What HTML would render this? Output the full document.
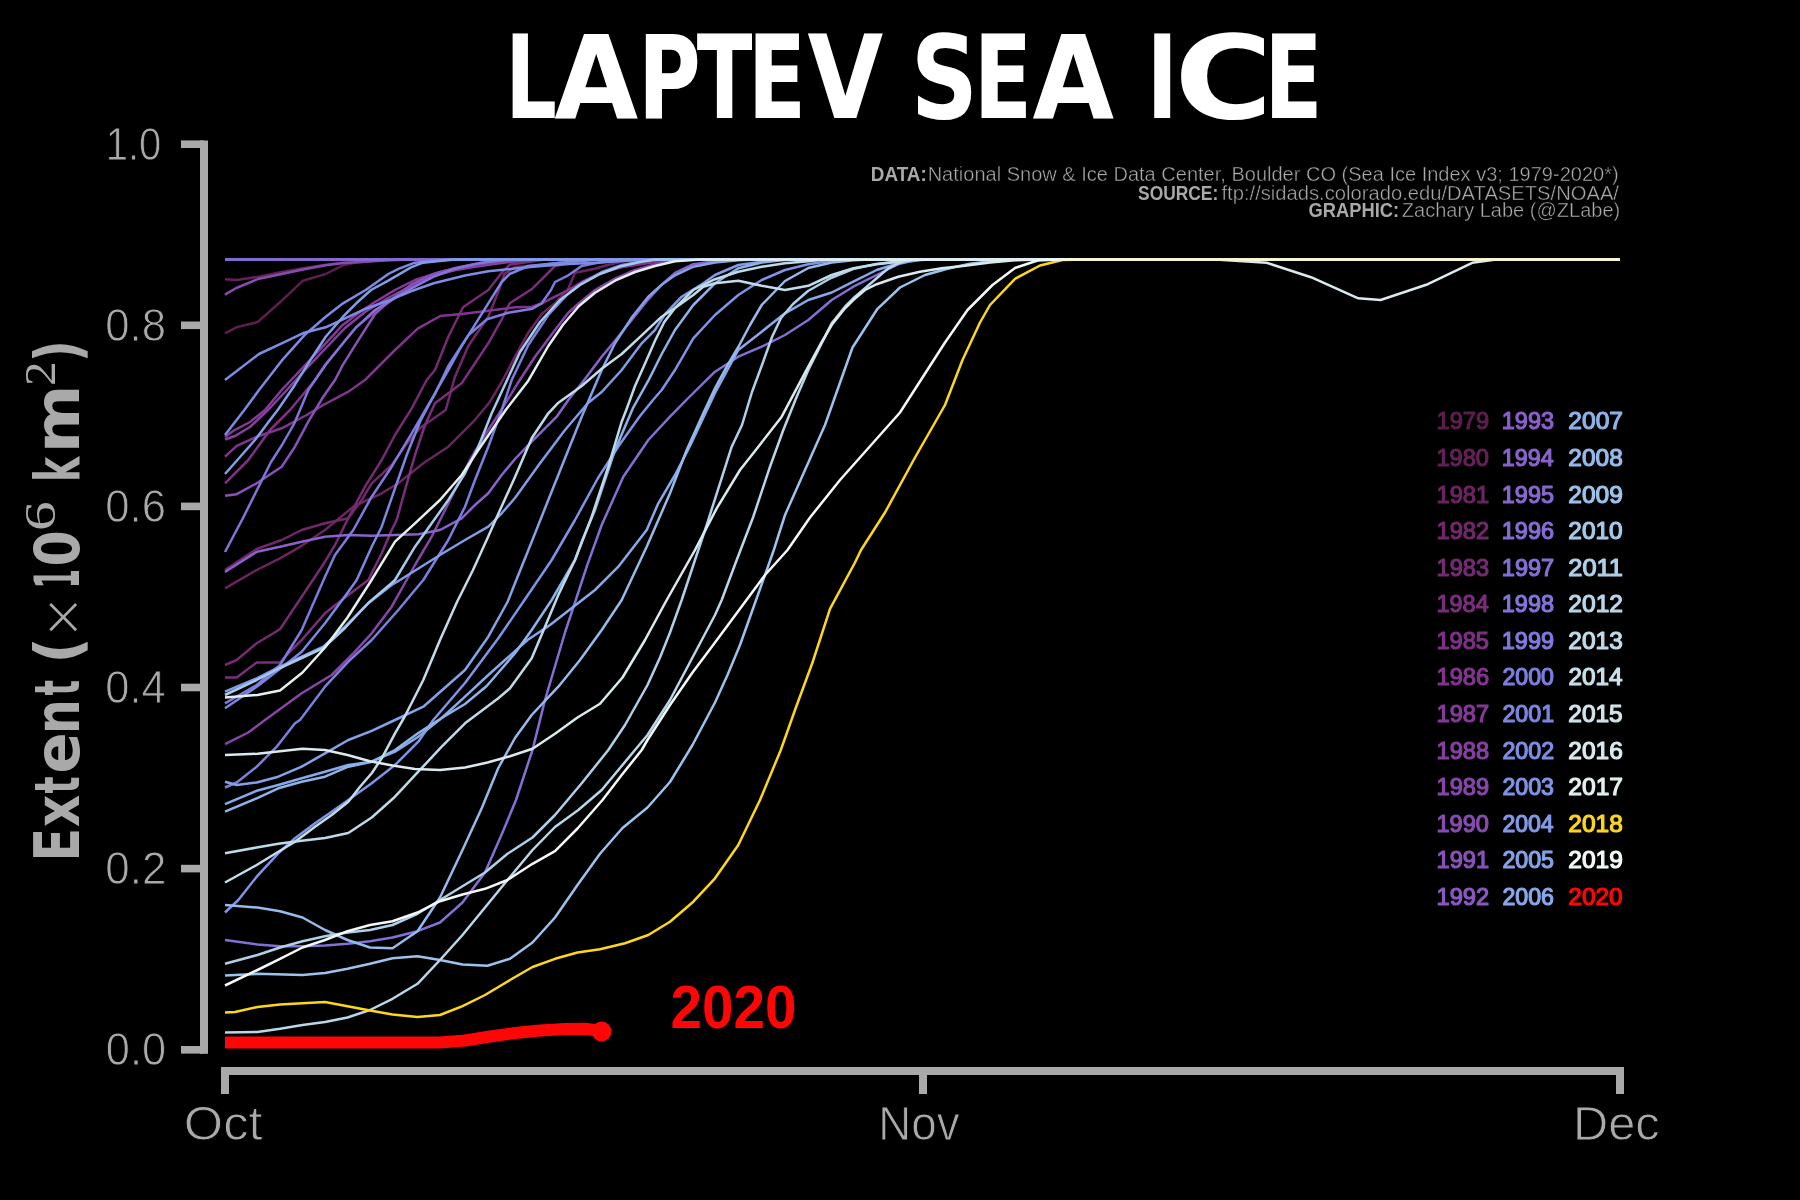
<!DOCTYPE html>
<html lang="en"><head><meta charset="utf-8"><title>Laptev Sea Ice</title>
<style>
html,body{margin:0;padding:0;background:#000;}
body{width:1800px;height:1200px;overflow:hidden;}
svg{display:block;will-change:transform;}
text{font-family:"Liberation Sans", sans-serif;}
text.dj{font-family:"DejaVu Sans","Liberation Sans",sans-serif;}
.ln{fill:none;stroke-width:2.5;stroke-linejoin:round;stroke-linecap:butt;}
</style></head><body>
<svg width="1800" height="1200" viewBox="0 0 1800 1200">
<rect width="1800" height="1200" fill="#000"/>
<text y="118" class="dj" font-size="115.9" font-weight="700" fill="#fff"><tspan x="505.36" textLength="51.66" lengthAdjust="spacingAndGlyphs">L</tspan><tspan x="554.27" textLength="83.96" lengthAdjust="spacingAndGlyphs">A</tspan><tspan x="637.94" textLength="62.78" lengthAdjust="spacingAndGlyphs">P</tspan><tspan x="696.80" textLength="55.64" lengthAdjust="spacingAndGlyphs">T</tspan><tspan x="747.65" textLength="58.41" lengthAdjust="spacingAndGlyphs">E</tspan><tspan x="807.52" textLength="75.65" lengthAdjust="spacingAndGlyphs">V</tspan> <tspan x="910.80" textLength="67.24" lengthAdjust="spacingAndGlyphs">S</tspan><tspan x="973.85" textLength="58.41" lengthAdjust="spacingAndGlyphs">E</tspan><tspan x="1032.49" textLength="81.53" lengthAdjust="spacingAndGlyphs">A</tspan> <tspan x="1146.54" textLength="31.47" lengthAdjust="spacingAndGlyphs">I</tspan><tspan x="1174.55" textLength="97.99" lengthAdjust="spacingAndGlyphs">C</tspan><tspan x="1264.35" textLength="58.41" lengthAdjust="spacingAndGlyphs">E</tspan></text>
<g font-size="19.6" fill="#a9a9a9">
<text y="181.2"><tspan x="870.80" textLength="55.93" lengthAdjust="spacingAndGlyphs" font-weight="700">DATA:</tspan> <tspan x="927.66" textLength="690.98" lengthAdjust="spacingAndGlyphs" stroke="#000" stroke-width="0.4">National Snow &amp; Ice Data Center, Boulder CO (Sea Ice Index v3; 1979-2020*)</tspan></text>
<text y="199.8"><tspan x="1138.10" textLength="80.17" lengthAdjust="spacingAndGlyphs" font-weight="700">SOURCE:</tspan> <tspan x="1221.52" textLength="397.48" lengthAdjust="spacingAndGlyphs" stroke="#000" stroke-width="0.4">ftp://sidads.colorado.edu/DATASETS/NOAA/</tspan></text>
<text y="217.2"><tspan x="1308.55" textLength="90.51" lengthAdjust="spacingAndGlyphs" font-weight="700">GRAPHIC:</tspan> <tspan x="1401.86" textLength="218.38" lengthAdjust="spacingAndGlyphs" stroke="#000" stroke-width="0.4">Zachary Labe (@ZLabe)</tspan></text>
</g>
<g class="ln">
<path d="M225.0 333.3 L236.3 327.3 L257.7 322.0 L281.7 300.7 L303.0 280.7 L325.7 274.0 L343.0 265.3 L355.0 262.7 L375.0 260.5 L390.0 259.5 L1620.0 259.5" stroke="#5c1e4e"/>
<path d="M225.0 279.3 L236.3 280.0 L259.0 276.7 L281.7 272.0 L304.3 268.0 L325.7 264.7 L343.0 262.7 L365.7 261.3 L388.3 260.0 L415.0 259.5 L1620.0 259.5" stroke="#632157"/>
<path d="M225.0 588.3 L256.7 570.0 L280.0 558.3 L301.7 545.8 L325.0 530.0 L353.3 506.7 L381.7 493.3 L398.3 483.3 L423.3 463.3 L448.3 446.7 L473.3 421.7 L490.0 401.7 L501.7 382.0 L515.0 356.7 L528.3 332.7 L541.7 314.0 L555.0 303.3 L568.3 288.7 L575.0 272.7 L595.0 268.7 L608.3 264.7 L625.0 261.0 L640.0 259.5 L1620.0 259.5" stroke="#6a2560"/>
<path d="M225.0 570.0 L256.7 549.0 L281.7 540.0 L301.7 530.0 L325.0 523.3 L348.3 518.3 L361.7 500.0 L371.7 483.3 L391.7 465.0 L405.0 446.0 L420.0 428.0 L445.7 410.0 L455.0 376.7 L468.3 346.0 L488.3 316.7 L499.0 290.0 L504.3 274.0 L515.0 267.3 L528.3 266.0 L541.7 264.7 L555.0 263.3 L575.0 259.5 L1620.0 259.5" stroke="#712869"/>
<path d="M225.0 665.0 L236.7 660.0 L256.7 643.3 L280.0 629.2 L301.7 596.7 L325.0 561.7 L335.0 545.0 L348.3 518.0 L365.0 486.7 L381.7 460.0 L395.0 435.0 L411.7 408.3 L426.7 380.0 L435.0 370.0 L448.3 336.7 L463.0 307.3 L488.3 290.0 L501.7 272.7 L509.7 264.7 L528.3 262.0 L545.0 259.5 L1620.0 259.5" stroke="#752b72"/>
<path d="M225.0 677.5 L236.7 677.5 L256.7 662.5 L280.0 662.5 L290.0 651.7 L301.7 640.0 L325.0 613.3 L348.3 595.0 L368.3 580.0 L381.7 553.3 L391.7 530.0 L396.7 520.0 L405.0 490.0 L415.0 455.0 L425.0 425.0 L435.0 403.3 L461.7 383.3 L475.0 363.3 L488.3 343.3 L501.7 319.3 L509.7 303.3 L532.3 288.7 L541.7 279.3 L555.0 266.0 L568.3 263.3 L585.0 259.5 L1620.0 259.5" stroke="#7a2e7c"/>
<path d="M225.0 483.3 L248.3 460.0 L270.0 430.0 L290.0 410.0 L306.7 390.0 L315.0 380.0 L325.7 364.0 L343.0 343.0 L356.0 327.0 L375.0 312.0 L388.0 303.0 L411.0 286.0 L433.7 275.0 L455.0 270.0 L475.0 266.0 L500.0 262.0 L520.0 259.5 L1620.0 259.5" stroke="#7e3185"/>
<path d="M225.0 456.7 L236.7 445.8 L256.7 436.7 L281.7 428.3 L306.7 415.0 L323.3 405.0 L348.3 391.7 L365.0 380.0 L375.0 370.0 L395.0 350.0 L417.7 328.7 L440.3 316.0 L461.7 314.0 L488.3 310.7 L515.0 307.3 L532.3 306.7 L541.7 303.3 L555.0 296.7 L568.3 290.0 L581.7 282.0 L601.7 272.7 L621.7 267.3 L641.7 264.0 L661.7 261.3 L680.0 259.5 L1620.0 259.5" stroke="#82348e"/>
<path d="M225.0 437.0 L233.0 431.0 L250.0 422.0 L265.0 410.0 L281.7 390.0 L304.3 366.0 L325.7 343.3 L343.0 324.7 L360.0 312.0 L375.0 302.0 L395.0 290.0 L415.0 280.0 L440.0 272.0 L465.0 267.0 L490.0 263.5 L515.0 261.0 L535.0 259.5 L1620.0 259.5" stroke="#843a97"/>
<path d="M225.0 439.5 L235.0 436.0 L250.0 427.0 L268.0 410.0 L285.0 392.0 L305.0 370.0 L325.0 349.0 L345.0 328.0 L365.0 312.0 L388.0 298.0 L411.0 286.0 L433.7 276.0 L455.0 270.0 L480.0 266.0 L505.0 262.5 L530.0 260.0 L545.0 259.5 L1620.0 259.5" stroke="#8540a0"/>
<path d="M225.0 744.2 L248.3 732.5 L265.0 720.0 L301.7 693.3 L331.7 675.0 L353.3 653.3 L371.7 633.3 L391.7 606.7 L415.0 565.0 L431.7 536.7 L440.0 520.0 L455.0 490.0 L470.0 460.0 L485.0 435.0 L500.0 412.0 L517.7 383.3 L535.0 356.7 L555.0 330.0 L568.3 312.7 L579.0 303.3 L595.0 290.0 L615.0 278.7 L635.0 270.0 L660.0 263.0 L680.0 259.5 L1620.0 259.5" stroke="#8646a8"/>
<path d="M225.0 294.7 L236.3 288.0 L259.0 278.7 L281.7 274.0 L304.3 269.3 L325.7 265.3 L343.0 263.0 L365.7 261.7 L388.0 260.3 L410.0 259.5 L1620.0 259.5" stroke="#884cb1"/>
<path d="M225.0 495.8 L236.7 494.2 L256.7 483.3 L281.7 466.7 L295.0 446.7 L308.3 421.7 L323.3 396.7 L335.0 380.0 L343.0 364.7 L356.3 343.3 L375.0 314.0 L388.3 302.0 L411.0 284.7 L433.7 274.0 L455.0 268.0 L480.0 263.0 L500.0 260.5 L515.0 259.5 L1620.0 259.5" stroke="#8952b9"/>
<path d="M225.0 259.5 L1620.0 259.5" stroke="#8a59c0"/>
<path d="M225.0 572.0 L257.0 551.7 L280.0 546.7 L301.7 541.7 L325.0 536.7 L348.3 535.0 L371.7 535.8 L395.0 535.0 L418.3 534.2 L440.0 530.0 L461.7 518.3 L475.0 505.0 L488.3 493.3 L501.7 475.0 L515.0 459.0 L531.7 441.7 L556.7 416.7 L568.3 400.0 L581.7 383.3 L601.7 356.7 L615.0 340.7 L632.3 319.3 L648.3 299.3 L661.7 284.7 L675.0 273.0 L693.3 264.2 L715.0 261.3 L735.0 259.5 L1620.0 259.5" stroke="#8963cb"/>
<path d="M225.0 259.5 L1620.0 259.5" stroke="#8768ce"/>
<path d="M225.0 259.5 L1620.0 259.5" stroke="#856cd2"/>
<path d="M225.0 940.0 L257.5 944.5 L280.0 946.2 L302.5 946.2 L325.0 945.5 L347.5 943.8 L370.0 941.2 L392.5 937.5 L417.5 931.2 L440.0 922.5 L462.5 902.5 L485.0 872.5 L502.5 832.5 L516.0 800.0 L532.5 750.0 L545.0 700.0 L565.0 632.5 L575.8 600.0 L586.7 566.7 L601.7 525.0 L623.3 476.7 L648.3 440.0 L670.0 416.7 L688.3 398.0 L715.0 371.7 L738.3 356.7 L761.7 346.7 L785.0 335.0 L808.3 320.0 L831.7 300.0 L853.3 286.7 L876.7 275.0 L898.3 264.2 L912.0 260.5 L925.0 259.5 L1620.0 259.5" stroke="#8370d5"/>
<path d="M225.0 552.0 L243.0 518.0 L262.0 480.0 L271.0 462.0 L282.0 445.0 L294.0 424.0 L300.0 410.0 L308.3 390.0 L325.7 364.7 L343.0 343.3 L356.3 327.3 L375.0 310.0 L388.3 302.0 L411.0 288.7 L433.7 276.7 L455.0 268.7 L480.0 263.0 L505.0 260.0 L520.0 259.5 L1620.0 259.5" stroke="#8175d8"/>
<path d="M225.0 703.3 L256.7 685.0 L280.0 665.0 L301.7 630.0 L325.0 576.7 L335.0 555.0 L353.3 530.0 L371.7 496.7 L391.7 466.7 L411.7 433.3 L428.3 405.0 L435.0 394.0 L448.3 366.0 L468.3 335.3 L487.0 319.3 L508.3 312.7 L532.3 308.7 L541.7 303.3 L551.0 290.0 L555.0 282.0 L568.3 275.3 L581.7 266.0 L595.0 263.3 L615.0 260.5 L630.0 259.5 L1620.0 259.5" stroke="#7f7adb"/>
<path d="M225.0 787.5 L236.7 782.5 L256.7 766.7 L276.7 746.7 L295.0 723.3 L300.0 720.0 L325.0 686.7 L348.3 661.7 L371.7 640.0 L398.3 610.0 L423.3 580.0 L448.3 540.0 L465.0 506.7 L475.0 480.0 L488.3 446.7 L501.7 410.0 L511.7 380.0 L528.3 345.0 L548.3 315.0 L568.3 293.5 L581.7 283.0 L601.7 272.0 L621.7 265.0 L641.7 261.3 L660.0 259.5 L1620.0 259.5" stroke="#7d7fde"/>
<path d="M225.0 708.3 L256.7 686.7 L285.0 665.0 L301.7 651.7 L325.0 623.3 L348.3 591.7 L356.7 580.0 L371.7 546.7 L381.7 526.7 L395.0 488.3 L406.7 455.0 L420.0 421.7 L436.7 390.0 L448.3 370.0 L461.7 346.0 L475.0 324.7 L488.3 303.3 L501.7 282.0 L509.7 274.0 L528.3 266.0 L555.0 263.3 L581.7 261.0 L600.0 259.5 L1620.0 259.5" stroke="#7d86e0"/>
<path d="M225.0 435.0 L244.3 410.0 L259.0 390.0 L281.7 360.7 L304.3 335.3 L325.7 316.7 L343.0 303.3 L365.7 290.0 L388.3 274.0 L399.0 268.7 L415.0 262.7 L433.7 260.7 L450.0 259.5 L1620.0 259.5" stroke="#7e8ae2"/>
<path d="M225.0 380.0 L259.0 354.0 L281.7 343.3 L304.3 332.7 L325.7 327.3 L343.0 319.3 L365.7 308.7 L388.3 300.7 L411.0 291.3 L433.7 283.3 L455.0 278.0 L465.0 275.5 L488.3 271.3 L515.0 268.5 L541.7 266.0 L568.3 264.0 L595.0 262.7 L630.0 260.5 L660.0 259.5 L1620.0 259.5" stroke="#7e8de3"/>
<path d="M225.0 912.5 L238.3 900.0 L256.7 876.7 L278.3 853.3 L295.0 838.3 L315.0 823.3 L331.7 811.7 L348.3 800.0 L371.7 783.3 L395.0 765.0 L418.3 741.7 L433.3 720.0 L465.0 683.0 L498.3 638.3 L523.3 601.7 L551.7 560.0 L575.0 520.0 L598.0 478.0 L620.0 444.0 L640.0 416.0 L653.0 400.0 L661.7 390.0 L675.0 370.0 L693.3 338.3 L715.0 315.0 L738.3 295.0 L761.7 280.0 L785.0 270.0 L808.3 264.2 L831.7 260.8 L850.0 259.5 L1620.0 259.5" stroke="#7e94e5"/>
<path d="M225.0 691.7 L256.7 678.3 L280.0 666.7 L301.7 656.7 L323.3 646.7 L345.0 626.7 L368.3 603.3 L391.7 585.0 L400.0 580.0 L440.0 555.0 L465.0 540.0 L488.3 526.7 L501.7 513.3 L515.0 498.0 L540.0 463.3 L565.0 430.0 L588.0 403.0 L601.7 392.0 L621.7 370.0 L641.7 343.3 L655.0 330.0 L665.0 314.2 L681.7 296.7 L703.3 283.3 L715.0 275.0 L738.3 265.0 L761.7 261.7 L780.0 259.5 L1620.0 259.5" stroke="#819be7"/>
<path d="M225.0 474.0 L255.0 440.0 L270.0 420.0 L277.7 410.0 L295.0 384.7 L308.3 363.3 L325.7 336.7 L343.0 316.7 L356.3 303.3 L371.0 290.0 L388.3 280.7 L411.0 267.3 L423.0 262.7 L441.7 260.7 L455.0 259.5 L1620.0 259.5" stroke="#829ee8"/>
<path d="M225.0 781.7 L236.7 785.0 L256.7 782.5 L278.3 776.7 L301.7 766.7 L325.0 753.3 L348.3 740.0 L371.7 730.8 L395.0 720.0 L423.3 706.7 L465.0 670.0 L488.3 636.7 L507.5 602.0 L515.0 583.3 L531.7 541.7 L548.3 500.0 L565.0 458.3 L581.7 416.7 L588.0 402.0 L601.7 370.0 L615.0 343.3 L632.3 316.7 L648.3 296.7 L661.7 284.7 L675.0 275.3 L693.3 266.7 L715.0 262.5 L738.3 260.3 L755.0 259.5 L1620.0 259.5" stroke="#84a2e8"/>
<path d="M225.0 804.2 L256.7 790.8 L278.3 785.0 L301.7 778.3 L325.0 771.7 L348.3 765.0 L371.7 761.7 L395.0 751.7 L418.3 736.7 L441.7 718.0 L465.0 696.7 L488.3 675.0 L505.0 660.0 L527.5 640.0 L550.0 625.0 L572.5 607.5 L595.0 590.0 L618.3 566.7 L646.7 530.0 L658.3 503.3 L675.0 475.0 L690.0 446.0 L715.0 393.0 L738.3 350.0 L761.7 331.7 L785.0 313.3 L808.3 300.0 L831.7 292.5 L853.3 281.7 L876.7 270.0 L898.3 263.3 L920.0 260.0 L935.0 259.5 L1620.0 259.5" stroke="#87a9ea"/>
<path d="M225.0 811.7 L256.7 798.3 L278.3 788.3 L301.7 781.7 L325.0 776.7 L348.3 766.7 L371.7 761.7 L395.0 750.0 L418.3 733.0 L441.7 718.0 L465.0 704.0 L486.7 686.0 L515.0 653.3 L531.7 630.0 L551.7 600.0 L575.0 560.0 L581.7 541.7 L595.0 510.0 L615.0 450.0 L633.0 408.0 L648.3 380.7 L661.7 354.0 L675.0 330.0 L693.3 305.0 L715.0 283.3 L738.3 268.3 L761.7 262.5 L781.7 260.3 L795.0 259.5 L1620.0 259.5" stroke="#8eb2ea"/>
<path d="M225.0 905.0 L257.5 907.5 L280.0 911.2 L302.5 917.5 L325.0 930.0 L347.5 940.0 L370.0 947.5 L392.5 948.2 L417.5 931.2 L440.0 897.5 L462.5 850.0 L481.7 808.3 L498.3 768.0 L515.0 738.0 L531.7 715.0 L558.3 686.7 L580.0 660.0 L601.7 630.0 L621.7 600.0 L646.7 546.7 L670.0 493.3 L686.7 450.0 L703.3 413.3 L715.0 388.3 L726.7 366.7 L738.3 347.0 L750.0 325.0 L761.7 305.0 L785.0 281.0 L808.3 268.0 L831.7 262.5 L853.3 260.3 L870.0 259.5 L1620.0 259.5" stroke="#95baeb"/>
<path d="M225.0 975.5 L257.5 973.8 L302.5 975.0 L325.0 973.0 L347.5 968.8 L370.0 963.8 L392.5 958.2 L417.5 956.2 L440.0 960.0 L462.5 964.5 L487.5 965.8 L510.0 958.8 L532.5 942.5 L555.0 917.5 L577.5 885.0 L600.0 853.8 L622.5 828.0 L647.5 807.5 L670.0 782.0 L692.5 745.0 L715.0 702.5 L727.5 675.0 L740.0 645.0 L752.5 610.0 L765.0 575.0 L773.8 550.0 L785.0 515.0 L805.0 470.0 L825.0 425.0 L852.5 347.5 L877.5 308.8 L900.0 287.5 L925.0 275.0 L947.5 268.8 L970.0 263.8 L992.5 261.0 L1015.0 259.5 L1620.0 259.5" stroke="#9cc3eb"/>
<path d="M225.0 695.0 L256.7 680.0 L280.0 668.0 L301.7 658.0 L323.3 648.0 L345.0 628.0 L368.3 603.0 L391.7 583.0 L395.0 580.0 L415.0 546.7 L431.7 523.3 L448.3 500.0 L465.0 473.3 L478.3 446.7 L491.7 413.3 L503.3 388.3 L520.0 352.0 L540.0 322.0 L560.0 300.0 L580.0 285.0 L600.0 274.0 L620.0 266.5 L640.0 262.0 L655.0 259.5 L1620.0 259.5" stroke="#a5caea"/>
<path d="M225.0 963.8 L257.5 955.0 L280.0 947.5 L302.5 941.2 L325.0 936.2 L347.5 932.5 L370.0 930.0 L392.5 925.0 L417.5 913.8 L440.0 900.0 L462.5 886.2 L485.0 872.5 L507.5 853.8 L532.5 837.5 L555.0 815.0 L581.7 783.3 L608.3 750.0 L625.0 725.0 L647.5 685.0 L660.0 657.5 L670.0 632.5 L681.7 600.0 L695.0 560.0 L706.7 525.0 L720.0 483.3 L731.7 446.7 L742.0 425.0 L752.0 392.0 L762.0 365.0 L772.0 337.0 L781.0 318.0 L793.0 304.0 L808.0 291.0 L831.0 278.0 L853.0 269.0 L876.0 264.0 L898.0 261.5 L915.0 259.5 L1620.0 259.5" stroke="#afd0e9"/>
<path d="M225.0 1032.5 L257.5 1032.0 L280.0 1028.8 L302.5 1025.0 L325.0 1022.0 L347.5 1017.5 L370.0 1010.0 L392.5 998.8 L417.5 983.8 L440.0 960.0 L462.5 935.0 L485.0 907.5 L507.5 880.0 L532.5 850.0 L555.0 827.0 L578.3 810.0 L601.7 790.0 L618.3 770.0 L635.0 750.0 L647.5 735.0 L670.0 700.0 L692.5 657.5 L715.0 615.0 L721.7 600.0 L736.7 560.0 L753.3 516.7 L770.0 466.7 L783.3 430.0 L796.7 396.7 L808.3 370.0 L820.0 346.7 L831.7 323.3 L845.0 306.7 L853.3 298.3 L865.0 288.3 L876.7 278.3 L888.3 268.3 L898.3 263.3 L910.0 259.5 L1620.0 259.5" stroke="#b8d7e8"/>
<path d="M225.0 853.3 L256.7 847.5 L278.3 843.7 L301.7 840.8 L325.0 838.0 L348.3 833.0 L371.7 817.5 L395.0 796.7 L418.3 771.7 L441.7 746.7 L465.0 723.3 L498.3 698.3 L510.0 688.3 L531.7 658.3 L545.0 626.7 L558.3 595.0 L575.0 560.0 L591.7 516.7 L608.3 466.7 L621.7 421.7 L627.0 408.0 L635.0 386.0 L645.7 362.0 L655.0 340.7 L664.3 322.0 L675.0 308.0 L693.3 290.0 L715.0 279.2 L738.3 271.7 L761.7 266.7 L785.0 263.3 L808.3 261.3 L825.0 259.5 L1620.0 259.5" stroke="#bddae9"/>
<path d="M225.0 882.5 L256.7 865.0 L278.3 851.7 L295.0 841.7 L315.0 826.7 L331.7 815.0 L348.3 801.7 L360.0 786.7 L371.7 773.3 L381.7 758.3 L395.0 733.3 L405.0 716.0 L423.3 680.0 L440.0 640.0 L457.0 602.0 L473.0 570.0 L488.0 537.0 L500.0 510.0 L515.0 477.0 L531.7 438.3 L548.3 413.3 L557.7 403.3 L581.7 386.0 L601.7 368.7 L621.7 354.0 L641.7 335.3 L661.7 316.7 L675.0 308.0 L693.3 295.0 L703.3 286.7 L715.0 283.3 L738.3 280.8 L761.7 285.8 L785.0 290.0 L808.3 285.8 L831.7 275.0 L853.3 268.3 L876.7 264.2 L898.3 261.7 L915.0 259.5 L1620.0 259.5" stroke="#c2dde9"/>
<path d="M225.0 755.0 L257.5 753.8 L302.5 748.8 L325.0 750.0 L347.5 755.0 L370.0 761.2 L392.5 765.5 L415.0 769.0 L440.0 770.0 L465.0 767.5 L487.5 762.5 L510.0 756.2 L532.5 748.8 L555.0 733.8 L577.5 717.5 L600.0 703.8 L622.5 677.5 L645.0 640.0 L666.7 600.0 L695.0 550.0 L716.7 508.3 L740.0 470.0 L755.8 450.0 L781.7 416.7 L796.7 388.3 L808.3 366.7 L820.0 345.0 L831.7 325.0 L845.0 308.3 L853.3 300.0 L865.0 290.0 L876.7 284.2 L898.3 276.7 L920.0 271.7 L941.7 268.3 L965.0 265.8 L990.0 262.5 L1015.0 260.3 L1040.0 259.5 L1219.4 259.8 L1266.7 262.8 L1311.0 277.2 L1358.3 298.3 L1380.6 300.0 L1427.8 284.2 L1472.2 262.8 L1494.4 259.8 L1620.0 259.5" stroke="#daeaee"/>
<path d="M225.0 697.5 L257.5 695.0 L280.0 690.5 L302.5 672.5 L325.0 647.5 L347.5 617.5 L370.0 582.5 L395.0 541.7 L415.0 523.3 L440.0 500.0 L461.7 475.0 L478.3 450.0 L505.7 410.0 L528.3 380.7 L548.3 346.0 L563.0 324.7 L579.0 306.0 L595.0 292.7 L615.0 280.7 L635.0 272.0 L655.0 266.0 L675.0 261.3 L700.0 259.5 L1620.0 259.5" stroke="#e4f0f0"/>
<path d="M225.0 1012.5 L235.0 1012.0 L257.5 1007.0 L280.0 1004.5 L302.5 1003.2 L325.0 1002.0 L347.5 1006.2 L370.0 1010.5 L392.5 1014.5 L417.5 1017.0 L440.0 1015.0 L462.5 1006.2 L485.0 995.0 L510.0 980.0 L532.5 967.0 L555.0 958.8 L577.5 952.5 L600.0 949.2 L625.0 943.3 L648.3 935.0 L670.0 921.7 L693.3 901.7 L715.0 878.3 L738.3 845.0 L760.0 800.0 L780.8 750.0 L795.0 710.0 L812.5 662.5 L830.0 608.8 L855.0 562.5 L861.0 550.0 L885.0 512.5 L915.0 457.5 L945.0 405.0 L962.5 360.0 L980.0 322.5 L990.0 305.0 L1015.0 278.8 L1040.0 265.5 L1062.5 260.0 L1085.0 259.5 L1620.0 259.5" stroke="#fdd71c"/>
<path d="M225.0 985.5 L257.5 970.0 L280.0 958.8 L302.5 947.5 L325.0 940.0 L347.5 931.2 L370.0 925.0 L392.5 921.2 L417.5 912.5 L440.0 901.2 L462.5 894.5 L485.0 888.8 L507.5 880.0 L532.5 863.8 L555.0 851.2 L577.5 828.5 L602.5 800.0 L621.7 775.0 L641.7 750.0 L647.5 740.0 L670.0 705.0 L692.5 672.5 L715.0 642.5 L740.0 608.8 L765.0 575.0 L787.5 550.0 L810.0 517.5 L840.0 480.0 L900.0 412.5 L922.5 377.5 L945.0 342.5 L967.5 310.0 L992.5 285.0 L1015.0 268.0 L1037.5 260.5 L1060.0 259.5 L1620.0 259.5" stroke="#f3f8f8"/>
</g>
<path d="M225.0 1042.5 L440.0 1042.5 L465.0 1040.5 L490.0 1036.5 L515.0 1033.0 L540.0 1030.5 L565.0 1029.0 L585.0 1028.8 L601.0 1031.0" fill="none" stroke="#ff0606" stroke-width="12" stroke-linejoin="round"/>
<circle cx="601.5" cy="1031.5" r="10" fill="#ff0606"/>
<text y="1028.3" font-size="60.8" font-weight="700" fill="#ff0606"><tspan x="670.54" textLength="125.99" lengthAdjust="spacingAndGlyphs">2020</tspan></text>
<g fill="#a9a9a9">
<rect x="200" y="140.5" width="8" height="913.3"/>
<rect x="181" y="140.4" width="23" height="7.6"/>
<rect x="181" y="321.5" width="23" height="7.6"/>
<rect x="181" y="502.6" width="23" height="7.6"/>
<rect x="181" y="683.7" width="23" height="7.6"/>
<rect x="181" y="864.8" width="23" height="7.6"/>
<rect x="181" y="1046.0" width="23" height="7.6"/>
<rect x="221" y="1067" width="1403" height="8"/>
<rect x="221.0" y="1071" width="8" height="23"/>
<rect x="919.0" y="1071" width="8" height="23"/>
<rect x="1616.0" y="1071" width="8" height="23"/>
</g>
<g font-size="44.5" fill="#a9a9a9" stroke="#000" stroke-width="0.9">
<text y="159.7"><tspan x="105.70" textLength="55.61" lengthAdjust="spacingAndGlyphs" font-size="45.4">1.0</tspan></text>
<text y="340.8"><tspan x="105.34" textLength="60.70" lengthAdjust="spacingAndGlyphs" font-size="45.4">0.8</tspan></text>
<text y="521.9"><tspan x="105.34" textLength="60.73" lengthAdjust="spacingAndGlyphs" font-size="45.4">0.6</tspan></text>
<text y="703.0"><tspan x="105.35" textLength="60.37" lengthAdjust="spacingAndGlyphs" font-size="45.4">0.4</tspan></text>
<text y="884.1"><tspan x="105.34" textLength="61.02" lengthAdjust="spacingAndGlyphs" font-size="45.4">0.2</tspan></text>
<text y="1065.3"><tspan x="105.86" textLength="60.29" lengthAdjust="spacingAndGlyphs" font-size="45.4">0.0</tspan></text>
<text y="1140"><tspan x="183.85" textLength="78.67" lengthAdjust="spacingAndGlyphs" font-size="47.2">Oct</tspan></text>
<text y="1140"><tspan x="878.30" textLength="81.31" lengthAdjust="spacingAndGlyphs" font-size="47.2">Nov</tspan></text>
<text y="1140"><tspan x="1573.05" textLength="86.68" lengthAdjust="spacingAndGlyphs" font-size="47.2">Dec</tspan></text>
</g>
<text transform="translate(78.6 856.9) rotate(-90)" y="0" fill="#a9a9a9" class="dj" font-weight="700" font-size="62.4"><tspan x="-4.50" textLength="33.49" lengthAdjust="spacingAndGlyphs">E</tspan><tspan x="29.84" textLength="32.21" lengthAdjust="spacingAndGlyphs">x</tspan><tspan x="63.43" textLength="16.98" lengthAdjust="spacingAndGlyphs">t</tspan><tspan x="83.18" textLength="41.37" lengthAdjust="spacingAndGlyphs">e</tspan><tspan x="122.76" textLength="35.09" lengthAdjust="spacingAndGlyphs">n</tspan><tspan x="161.47" textLength="15.47" lengthAdjust="spacingAndGlyphs">t</tspan> <tspan x="193.08" textLength="26.70" lengthAdjust="spacingAndGlyphs">(</tspan><tspan font-weight="200" font-size="52.7" y="1.2"><tspan x="217.01" textLength="45.76" lengthAdjust="spacingAndGlyphs">×</tspan></tspan><tspan y="0"><tspan x="268.68" textLength="19.22" lengthAdjust="spacingAndGlyphs">1</tspan><tspan x="290.51" textLength="36.18" lengthAdjust="spacingAndGlyphs">0</tspan></tspan><tspan font-family="&quot;Liberation Serif&quot;, serif" font-weight="400" font-size="44.2" y="-23.2"><tspan x="325.94" textLength="29.84" lengthAdjust="spacingAndGlyphs">6</tspan></tspan> <tspan y="0"><tspan x="374.82" textLength="25.16" lengthAdjust="spacingAndGlyphs">k</tspan><tspan x="403.72" textLength="68.80" lengthAdjust="spacingAndGlyphs">m</tspan></tspan><tspan font-family="&quot;Liberation Serif&quot;, serif" font-weight="400" font-size="44.2" y="-23.2"><tspan x="470.83" textLength="24.70" lengthAdjust="spacingAndGlyphs">2</tspan></tspan><tspan y="0"><tspan x="494.59" textLength="22.30" lengthAdjust="spacingAndGlyphs">)</tspan></tspan></text>
<g font-size="24.0" font-weight="400" stroke-width="1.2" stroke-linejoin="round">
<text y="429.3" fill="#5c1e4e" stroke="#5c1e4e"><tspan x="1436.50" textLength="52.62" lengthAdjust="spacingAndGlyphs">1979</tspan></text>
<text y="465.9" fill="#632157" stroke="#632157"><tspan x="1436.51" textLength="52.42" lengthAdjust="spacingAndGlyphs">1980</tspan></text>
<text y="502.5" fill="#6a2560" stroke="#6a2560"><tspan x="1436.50" textLength="52.66" lengthAdjust="spacingAndGlyphs">1981</tspan></text>
<text y="539.0" fill="#712869" stroke="#712869"><tspan x="1436.50" textLength="52.70" lengthAdjust="spacingAndGlyphs">1982</tspan></text>
<text y="575.6" fill="#752b72" stroke="#752b72"><tspan x="1436.50" textLength="52.54" lengthAdjust="spacingAndGlyphs">1983</tspan></text>
<text y="612.2" fill="#7a2e7c" stroke="#7a2e7c"><tspan x="1436.51" textLength="52.17" lengthAdjust="spacingAndGlyphs">1984</tspan></text>
<text y="648.8" fill="#7e3185" stroke="#7e3185"><tspan x="1436.50" textLength="52.49" lengthAdjust="spacingAndGlyphs">1985</tspan></text>
<text y="685.4" fill="#82348e" stroke="#82348e"><tspan x="1436.50" textLength="52.54" lengthAdjust="spacingAndGlyphs">1986</tspan></text>
<text y="721.9" fill="#843a97" stroke="#843a97"><tspan x="1436.50" textLength="52.70" lengthAdjust="spacingAndGlyphs">1987</tspan></text>
<text y="758.5" fill="#8540a0" stroke="#8540a0"><tspan x="1436.50" textLength="52.52" lengthAdjust="spacingAndGlyphs">1988</tspan></text>
<text y="795.1" fill="#8646a8" stroke="#8646a8"><tspan x="1436.50" textLength="52.62" lengthAdjust="spacingAndGlyphs">1989</tspan></text>
<text y="831.7" fill="#884cb1" stroke="#884cb1"><tspan x="1436.51" textLength="52.42" lengthAdjust="spacingAndGlyphs">1990</tspan></text>
<text y="868.3" fill="#8952b9" stroke="#8952b9"><tspan x="1436.50" textLength="52.66" lengthAdjust="spacingAndGlyphs">1991</tspan></text>
<text y="904.8" fill="#8a59c0" stroke="#8a59c0"><tspan x="1436.50" textLength="52.70" lengthAdjust="spacingAndGlyphs">1992</tspan></text>
<text y="429.3" fill="#8b5fc8" stroke="#8b5fc8"><tspan x="1501.81" textLength="52.22" lengthAdjust="spacingAndGlyphs">1993</tspan></text>
<text y="465.9" fill="#8963cb" stroke="#8963cb"><tspan x="1501.82" textLength="51.86" lengthAdjust="spacingAndGlyphs">1994</tspan></text>
<text y="502.5" fill="#8768ce" stroke="#8768ce"><tspan x="1501.81" textLength="52.17" lengthAdjust="spacingAndGlyphs">1995</tspan></text>
<text y="539.0" fill="#856cd2" stroke="#856cd2"><tspan x="1501.81" textLength="52.22" lengthAdjust="spacingAndGlyphs">1996</tspan></text>
<text y="575.6" fill="#8370d5" stroke="#8370d5"><tspan x="1501.81" textLength="52.38" lengthAdjust="spacingAndGlyphs">1997</tspan></text>
<text y="612.2" fill="#8175d8" stroke="#8175d8"><tspan x="1501.81" textLength="52.21" lengthAdjust="spacingAndGlyphs">1998</tspan></text>
<text y="648.8" fill="#7f7adb" stroke="#7f7adb"><tspan x="1501.81" textLength="52.30" lengthAdjust="spacingAndGlyphs">1999</tspan></text>
<text y="685.4" fill="#7d7fde" stroke="#7d7fde"><tspan x="1502.44" textLength="51.47" lengthAdjust="spacingAndGlyphs">2000</tspan></text>
<text y="721.9" fill="#7d86e0" stroke="#7d86e0"><tspan x="1502.43" textLength="51.70" lengthAdjust="spacingAndGlyphs">2001</tspan></text>
<text y="758.5" fill="#7e8de3" stroke="#7e8de3"><tspan x="1502.43" textLength="51.74" lengthAdjust="spacingAndGlyphs">2002</tspan></text>
<text y="795.1" fill="#7e94e5" stroke="#7e94e5"><tspan x="1502.43" textLength="51.59" lengthAdjust="spacingAndGlyphs">2003</tspan></text>
<text y="831.7" fill="#819be7" stroke="#819be7"><tspan x="1502.44" textLength="51.23" lengthAdjust="spacingAndGlyphs">2004</tspan></text>
<text y="868.3" fill="#84a2e8" stroke="#84a2e8"><tspan x="1502.43" textLength="51.54" lengthAdjust="spacingAndGlyphs">2005</tspan></text>
<text y="904.8" fill="#87a9ea" stroke="#87a9ea"><tspan x="1502.43" textLength="51.59" lengthAdjust="spacingAndGlyphs">2006</tspan></text>
<text y="429.3" fill="#8eb2ea" stroke="#8eb2ea"><tspan x="1568.37" textLength="54.57" lengthAdjust="spacingAndGlyphs">2007</tspan></text>
<text y="465.9" fill="#95baeb" stroke="#95baeb"><tspan x="1568.37" textLength="54.39" lengthAdjust="spacingAndGlyphs">2008</tspan></text>
<text y="502.5" fill="#9cc3eb" stroke="#9cc3eb"><tspan x="1568.37" textLength="54.49" lengthAdjust="spacingAndGlyphs">2009</tspan></text>
<text y="539.0" fill="#a5caea" stroke="#a5caea"><tspan x="1568.37" textLength="54.28" lengthAdjust="spacingAndGlyphs">2010</tspan></text>
<text y="575.6" fill="#afd0e9" stroke="#afd0e9"><tspan x="1568.37" textLength="54.53" lengthAdjust="spacingAndGlyphs">2011</tspan></text>
<text y="612.2" fill="#b8d7e8" stroke="#b8d7e8"><tspan x="1568.37" textLength="54.57" lengthAdjust="spacingAndGlyphs">2012</tspan></text>
<text y="648.8" fill="#c0dce9" stroke="#c0dce9"><tspan x="1568.37" textLength="54.40" lengthAdjust="spacingAndGlyphs">2013</tspan></text>
<text y="685.4" fill="#c9e0ea" stroke="#c9e0ea"><tspan x="1568.38" textLength="54.03" lengthAdjust="spacingAndGlyphs">2014</tspan></text>
<text y="721.9" fill="#d1e5eb" stroke="#d1e5eb"><tspan x="1568.37" textLength="54.35" lengthAdjust="spacingAndGlyphs">2015</tspan></text>
<text y="758.5" fill="#daeaee" stroke="#daeaee"><tspan x="1568.37" textLength="54.40" lengthAdjust="spacingAndGlyphs">2016</tspan></text>
<text y="795.1" fill="#e4f0f0" stroke="#e4f0f0"><tspan x="1568.37" textLength="54.57" lengthAdjust="spacingAndGlyphs">2017</tspan></text>
<text y="831.7" fill="#fdd71c" stroke="#fdd71c"><tspan x="1568.37" textLength="54.39" lengthAdjust="spacingAndGlyphs">2018</tspan></text>
<text y="868.3" fill="#f3f8f8" stroke="#f3f8f8"><tspan x="1568.37" textLength="54.49" lengthAdjust="spacingAndGlyphs">2019</tspan></text>
<text y="904.8" fill="#ff0606" stroke="#ff0606"><tspan x="1568.37" textLength="54.28" lengthAdjust="spacingAndGlyphs">2020</tspan></text>
</g>
</svg>
</body></html>
